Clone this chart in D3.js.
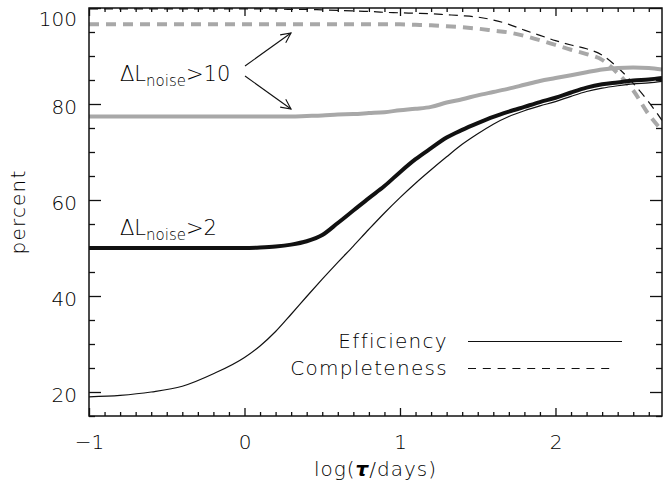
<!DOCTYPE html>
<html>
<head>
<meta charset="utf-8">
<script src="https://cdn.jsdelivr.net/npm/d3@7"></script>
<style>
  html, body { margin: 0; padding: 0; background: #fff; }
  svg { display: block; }
  text { font-family: "DejaVu Sans", "Liberation Sans", sans-serif; fill: #000; font-weight: 200; }
</style>
</head>
<body>
<svg id="chart" width="663" height="486"></svg>
<script>
// ---- data ----
const logTau = [-1.0, -0.8, -0.6, -0.4, -0.2, 0.0, 0.1, 0.2, 0.3, 0.4, 0.5, 0.6, 0.7, 0.8, 0.9,
                1.0, 1.1, 1.2, 1.3, 1.4, 1.5, 1.6, 1.7, 1.8, 1.9, 2.0, 2.1, 2.2, 2.3, 2.4, 2.5, 2.6, 2.685];

// ΔL_noise>2 efficiency (thick black)
const eff2 = [50.0, 50.0, 50.0, 50.0, 50.0, 50.0, 50.1, 50.3, 50.7, 51.4, 52.7, 55.2, 57.8, 60.4, 62.9,
              65.8, 68.5, 70.8, 73.0, 74.6, 76.0, 77.3, 78.4, 79.4, 80.4, 81.3, 82.4, 83.4, 84.1, 84.5, 84.9, 85.1, 85.4];
// thin black efficiency
const effThin = [19.0, 19.3, 20.0, 21.2, 23.8, 27.2, 29.6, 32.6, 36.2, 39.9, 43.5, 47.0, 50.4, 53.9, 57.3,
                 60.5, 63.5, 66.3, 69.0, 71.6, 73.8, 75.8, 77.4, 78.6, 79.6, 80.5, 81.6, 82.6, 83.3, 83.8, 84.2, 84.4, 84.7];
// ΔL_noise>10 efficiency (thick grey)
const eff10 = [77.4, 77.4, 77.4, 77.4, 77.4, 77.4, 77.4, 77.4, 77.4, 77.5, 77.6, 77.8, 77.9, 78.1, 78.3,
               78.7, 79.0, 79.4, 80.3, 81.0, 81.8, 82.5, 83.2, 84.0, 84.8, 85.4, 86.0, 86.6, 87.2, 87.5, 87.6, 87.5, 87.2];
// ΔL_noise>10 completeness (thick grey dashed)
const comp10 = [96.6, 96.6, 96.6, 96.6, 96.6, 96.6, 96.6, 96.6, 96.6, 96.6, 96.6, 96.6, 96.6, 96.6, 96.6,
                96.6, 96.5, 96.4, 96.2, 96.0, 95.7, 95.3, 94.9, 94.2, 93.3, 92.3, 91.3, 90.4, 89.2, 86.4, 82.8, 77.8, 74.5];
// thin black completeness (dashed)
const compThin = [99.8, 99.8, 99.8, 99.8, 99.8, 99.8, 99.8, 99.8, 99.7, 99.7, 99.6, 99.5, 99.4, 99.3, 99.1,
                  99.0, 98.9, 98.8, 98.6, 98.4, 98.1, 97.5, 96.6, 95.4, 94.3, 93.2, 92.3, 91.5, 90.2, 87.6, 84.3, 80.4, 76.6];

const xMajorTicks = [-1, 0, 1, 2];
const yMajorTicks = [20, 40, 60, 80, 100];
const xTickLabels = ["\u22121", "0", "1", "2"];
const legendLabels = ["Efficiency", "Completeness"];

// ---- layout ----
const svg = d3.select("#chart");
const L = 89, R = 662, T = 8, B = 416;
const x = d3.scaleLinear().domain([-1, 2.685]).range([L, R]);
const y = d3.scaleLinear().domain([15, 100]).range([B, T]);

const xMinor = d3.range(-10, 27).map(d => d / 10).filter(d => !xMajorTicks.some(m => Math.abs(m - d) < 1e-9));
const yMinor = d3.range(15, 101, 5).filter(d => !yMajorTicks.includes(d));

svg.append("defs").append("clipPath").attr("id", "clip")
  .append("rect").attr("x", L).attr("y", T).attr("width", R - L).attr("height", B - T);

// ---- series ----
const line = vals => d3.line().curve(d3.curveMonotoneX).x((d, i) => x(logTau[i])).y(d => y(d))(vals);
const g = svg.append("g").attr("clip-path", "url(#clip)");

g.append("path").attr("d", line(comp10)).attr("fill", "none")
  .attr("stroke", "#a8a8a8").attr("stroke-width", 4).attr("stroke-dasharray", "10,7");
g.append("path").attr("d", line(compThin)).attr("fill", "none")
  .attr("stroke", "#111").attr("stroke-width", 1.2).attr("stroke-dasharray", "9,6");
g.append("path").attr("d", line(eff10)).attr("fill", "none")
  .attr("stroke", "#a8a8a8").attr("stroke-width", 4).attr("stroke-linejoin", "round");
g.append("path").attr("d", line(effThin)).attr("fill", "none")
  .attr("stroke", "#111").attr("stroke-width", 1.2).attr("stroke-linejoin", "round");
g.append("path").attr("d", line(eff2)).attr("fill", "none")
  .attr("stroke", "#111").attr("stroke-width", 4).attr("stroke-linejoin", "round");

// ---- axes ----
function styleAxis(sel) {
  sel.select(".domain").remove();
  sel.selectAll(".tick line").attr("stroke", "#111").attr("stroke-width", 1.3);
  sel.selectAll("text").attr("font-family", "DejaVu Sans").attr("font-size", 20).attr("fill", "#000");
}
// bottom
svg.append("g").attr("transform", `translate(0,${B})`)
  .call(d3.axisBottom(x).tickValues(xMajorTicks).tickSize(-8).tickPadding(19)
        .tickFormat((d, i) => xTickLabels[i]))
  .call(styleAxis);
svg.append("g").attr("transform", `translate(0,${B})`)
  .call(d3.axisBottom(x).tickValues(xMinor).tickSize(-4).tickFormat(""))
  .call(styleAxis);
// top
svg.append("g").attr("transform", `translate(0,${T})`)
  .call(d3.axisTop(x).tickValues(xMajorTicks).tickSize(-8).tickFormat(""))
  .call(styleAxis);
svg.append("g").attr("transform", `translate(0,${T})`)
  .call(d3.axisTop(x).tickValues(xMinor).tickSize(-4).tickFormat(""))
  .call(styleAxis);
// left
const yAxisG = svg.append("g").attr("transform", `translate(${L},0)`)
  .call(d3.axisLeft(y).tickValues(yMajorTicks).tickSize(-12).tickPadding(12).tickFormat(d3.format("d")))
  .call(styleAxis);
yAxisG.selectAll(".tick text").attr("dy", d => d === 100 ? "0.85em" : "0.45em");
svg.append("g").attr("transform", `translate(${L},0)`)
  .call(d3.axisLeft(y).tickValues(yMinor).tickSize(-6).tickFormat(""))
  .call(styleAxis);
// right
svg.append("g").attr("transform", `translate(${R},0)`)
  .call(d3.axisRight(y).tickValues(yMajorTicks).tickSize(-12).tickFormat(""))
  .call(styleAxis);
svg.append("g").attr("transform", `translate(${R},0)`)
  .call(d3.axisRight(y).tickValues(yMinor).tickSize(-6).tickFormat(""))
  .call(styleAxis);

// frame
svg.append("rect").attr("x", L).attr("y", T).attr("width", R - L).attr("height", B - T)
  .attr("fill", "none").attr("stroke", "#111").attr("stroke-width", 1.5);

// axis titles
const xt = svg.append("text").attr("x", (L + R) / 2).attr("y", 476).attr("text-anchor", "middle")
  .attr("font-size", 20).attr("letter-spacing", 1);
xt.append("tspan").text("log(");
xt.append("tspan").text("\u03C4").attr("font-style", "italic").attr("font-weight", "bold");
xt.append("tspan").text("/days)");

svg.append("text").attr("transform", `translate(25,${(T + B) / 2}) rotate(-90)`)
  .attr("text-anchor", "middle").attr("font-size", 20).attr("letter-spacing", 1.2).text("percent");

// ---- annotations ----
function deltaLabel(px, py, suffix) {
  const t = svg.append("text").attr("x", px).attr("y", py).attr("font-size", 21);
  t.append("tspan").text("\u0394L");
  t.append("tspan").text("noise").attr("font-size", 15).attr("dy", 5);
  t.append("tspan").text(">" + suffix).attr("dy", -5);
}
deltaLabel(120, 81, "10");
deltaLabel(120, 235, "2");

// arrows
const arrows = [[245, 66, 291, 33], [245, 76, 291, 109]];
arrows.forEach(([x1, y1, x2, y2]) => {
  svg.append("line").attr("x1", x1).attr("y1", y1).attr("x2", x2).attr("y2", y2)
    .attr("stroke", "#111").attr("stroke-width", 1.1);
  const ang = Math.atan2(y2 - y1, x2 - x1), len = 11, spread = 0.45;
  const p1 = [x2 - len * Math.cos(ang - spread), y2 - len * Math.sin(ang - spread)];
  const p2 = [x2 - len * Math.cos(ang + spread), y2 - len * Math.sin(ang + spread)];
  svg.append("path").attr("d", `M${p1[0]},${p1[1]}L${x2},${y2}L${p2[0]},${p2[1]}`)
    .attr("fill", "none").attr("stroke", "#111").attr("stroke-width", 1.1);
});

// legend
const legY = [348, 375];
legendLabels.forEach((lab, i) => {
  svg.append("text").attr("x", 448).attr("y", legY[i]).attr("text-anchor", "end")
    .attr("font-size", 20).attr("letter-spacing", 1.3).text(lab);
});
svg.append("line").attr("x1", 468).attr("x2", 622).attr("y1", 341.5).attr("y2", 341.5)
  .attr("stroke", "#111").attr("stroke-width", 1.2);
svg.append("line").attr("x1", 468).attr("x2", 614).attr("y1", 368.5).attr("y2", 368.5)
  .attr("stroke", "#111").attr("stroke-width", 1.2).attr("stroke-dasharray", "8,6.8");
</script>
</body>
</html>
